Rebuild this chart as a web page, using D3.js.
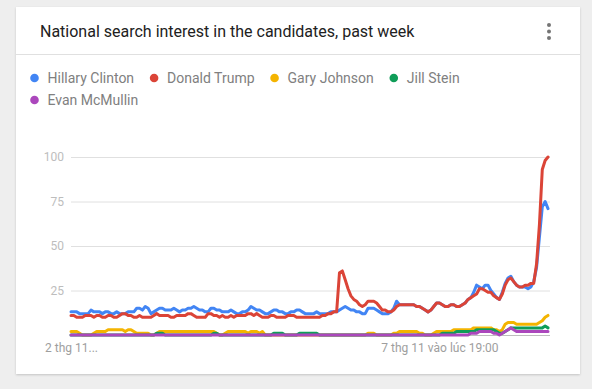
<!DOCTYPE html>
<html>
<head>
<meta charset="utf-8">
<script src="https://cdn.jsdelivr.net/npm/d3@7"></script>
<style>
  html, body { margin: 0; padding: 0; background: #eeeeee; }
  svg { display: block; font-family: Roboto, "Noto Sans", sans-serif; }
</style>
</head>
<body>
<div id="chart"></div>
<script>
const titleText = "National search interest in the candidates, past week";
const seriesNames = ["Hillary Clinton", "Donald Trump", "Gary Johnson", "Jill Stein", "Evan McMullin"];
const seriesColors = ["#4285f4", "#db4437", "#f4b400", "#0f9d58", "#ab47bc"];

// hourly points over the week
const clintonValues = [
  13,13,13,12,12,12,12,14,13,13, 13,12,13,13,12,12,13,12,12,12,
  13,13,13,15,15,14,16,15,12,13, 14,15,15,14,14,14,15,14,13,14,
  14,15,15,16,15,14,14,13,13,15, 15,14,14,13,13,13,14,13,12,12,
  13,13,14,16,15,14,14,13,12,12, 13,14,14,13,13,12,12,13,13,14,
  14,13,12,12,12,12,13,12,12,12, 12,13,13,13,14,15,16,15,14,14,
  13,13,12,12,15,15,15,14,13,12, 12,12,13,15,19,17,17,17,17,17,
  17,16,16,15,14,13,14,16,18,18, 17,16,16,17,17,16,16,17,18,20,
  21,24,28,27,26,28,28,25,23,21, 20,24,29,32,33,30,28,27,27,27,
  26,27,30,38,55,72,75,71
];
const trumpValues = [
  11,11,10,10,10,11,11,11,10,11, 11,10,10,11,11,10,10,11,12,12,
  11,11,10,10,11,10,10,10,10,11, 12,11,11,11,11,10,10,11,11,11,
  11,12,12,11,10,10,10,10,12,12, 11,11,10,11,10,10,11,10,11,11,
  11,11,12,12,11,12,11,10,10,10, 11,11,10,10,10,10,11,11,11,10,
  10,10,10,10,10,10,10,10,11,11, 12,12,13,13,35,36,31,26,22,20,
  19,17,16,17,19,19,19,18,16,14, 14,13,13,14,16,17,17,17,17,17,
  17,16,16,15,14,13,14,16,18,18, 17,16,16,17,17,16,16,17,18,20,
  21,22,23,26,26,25,24,24,22,21, 20,23,28,31,32,30,28,27,27,28,
  28,29,29,40,62,93,98,100
];
const johnsonValues = [
  2,2,2,1,0,0,0,0,1,2, 2,2,2,3,3,3,3,3,3,2,
  3,3,2,1,1,1,1,1,0,0, 1,2,2,2,2,2,2,2,2,2,
  2,2,2,2,2,2,2,2,2,2, 2,1,0,0,1,2,2,2,2,2,
  2,2,1,2,2,2,1,2,0,0, 0,0,0,0,0,0,0,0,0,0,
  0,0,0,0,0,0,0,0,0,0, 0,0,0,0,0,0,0,0,0,0,
  0,0,0,0,1,1,1,0,0,0, 0,0,0,1,1,2,2,2,2,2,
  2,2,1,1,0,0,0,1,2,2, 2,2,2,2,3,3,3,3,3,3,
  3,4,4,4,4,4,4,4,3,3, 2,3,6,7,7,7,6,6,6,6,
  6,6,6,6,7,8,10,11
];
const steinValues = [
  0,0,0,0,0,0,0,0,0,0, 0,0,0,0,0,0,0,0,0,0,
  0,0,0,0,0,0,0,0,0,0, 1,1,1,0,0,0,0,0,0,0,
  0,0,0,0,0,0,0,0,0,0, 1,1,0,0,0,0,0,0,0,0,
  0,0,0,0,0,0,0,0,0,0, 0,1,1,1,1,0,0,0,0,0,
  1,1,1,1,1,1,1,0,0,0, 0,0,0,0,0,0,0,0,0,0,
  0,0,0,0,0,0,0,0,0,0, 0,0,0,0,0,0,0,0,0,0,
  0,0,0,0,0,0,0,0,0,0, 1,1,1,1,1,2,2,2,2,2,
  2,2,3,3,3,3,3,3,3,2, 1,1,2,3,4,4,4,4,4,4,
  4,4,4,4,4,4,5,4
];
const mcmullinValues = [
  0,0,0,0,0,0,0,0,0,0, 0,0,0,0,0,0,0,0,0,0,
  0,0,0,0,0,0,0,0,0,0, 0,0,0,0,0,0,0,0,0,0,
  0,0,0,0,0,0,0,0,0,0, 0,0,0,0,0,0,0,0,0,0,
  0,0,0,0,0,0,0,0,0,0, 0,0,0,0,0,0,0,0,0,0,
  0,0,0,0,0,0,0,0,0,0, 0,0,0,0,0,0,0,0,0,0,
  0,0,0,0,0,0,0,0,0,0, 0,0,0,0,0,0,0,0,0,0,
  0,0,0,0,0,0,0,0,0,0, 0,0,0,0,0,0,0,0,0,0,
  1,1,1,2,2,2,2,2,1,1, 0,1,2,3,4,3,2,2,2,2,
  2,2,2,2,2,2,2,2
];
const yTicks = [25, 50, 75, 100];
const xTickIndexes = [0, 129];
const xTickLabels = ["2 thg 11...", "7 thg 11 vào lúc 19:00"];

const allSeries = [clintonValues, trumpValues, johnsonValues, steinValues, mcmullinValues];

const W = 592, H = 389;
const card = { x: 16, y: 7, w: 564, h: 367 };
const plot = { left: 71, right: 550, top: 157, bottom: 335, lastX: 548 };

const svg = d3.select("#chart").append("svg").attr("width", W).attr("height", H);

const defs = svg.append("defs");
const shadow = defs.append("filter").attr("id", "shadow")
  .attr("x", "-5%").attr("y", "-5%").attr("width", "110%").attr("height", "110%");
shadow.append("feDropShadow").attr("dx", 0).attr("dy", 1).attr("stdDeviation", 1)
  .attr("flood-color", "#000").attr("flood-opacity", 0.18);

svg.append("rect")
  .attr("x", card.x).attr("y", card.y).attr("width", card.w).attr("height", card.h)
  .attr("fill", "#fff").attr("filter", "url(#shadow)");

// header
svg.append("text")
  .attr("x", 40).attr("y", 37)
  .style("font-size", "16px").style("fill", "#212121")
  .text(titleText);

svg.append("line")
  .attr("x1", card.x).attr("x2", card.x + card.w).attr("y1", 54.5).attr("y2", 54.5)
  .attr("stroke", "#e0e0e0");

svg.append("g").selectAll("circle").data([25, 31.5, 38]).join("circle")
  .attr("cx", 549).attr("cy", (d) => d).attr("r", 2).attr("fill", "#757575");

// legend, wrapping like the original
const legend = svg.append("g");
let cursor = 30, row = 0;
seriesNames.forEach((name, i) => {
  const g = legend.append("g");
  const t = g.append("text").attr("y", 0).attr("dy", "0.35em")
    .style("font-size", "14px").style("fill", "#808080").text(name);
  const tw = t.node().getComputedTextLength();
  if (cursor + 14 + tw > 560) { cursor = 30; row++; }
  g.attr("transform", `translate(${cursor},${78 + row * 22})`);
  g.append("circle").attr("cx", 4.5).attr("cy", 0).attr("r", 4.3).attr("fill", seriesColors[i]);
  t.attr("x", 17.5);
  cursor += 17.5 + tw + 15.5;
});

// scales
const n = clintonValues.length;
const x = d3.scaleLinear().domain([0, n - 1]).range([plot.left, plot.lastX]);
const y = d3.scaleLinear().domain([0, 100]).range([plot.bottom, plot.top]);

const yAxis = svg.append("g")
  .attr("transform", `translate(${plot.left},0)`)
  .call(d3.axisLeft(y).tickValues(yTicks).tickSize(-(plot.right - plot.left)).tickPadding(7));
yAxis.select(".domain").remove();
yAxis.selectAll(".tick line").attr("stroke", "#e0e0e0");
yAxis.selectAll(".tick text")
  .style("font-family", "Roboto, sans-serif").style("font-size", "12px").attr("fill", "#bdbdbd");

svg.append("line")
  .attr("x1", plot.left).attr("x2", plot.right)
  .attr("y1", y(0) + 0.5).attr("y2", y(0) + 0.5)
  .attr("stroke", "#bdbdbd");

const xAxis = svg.append("g")
  .attr("transform", `translate(0,${plot.bottom})`)
  .call(d3.axisBottom(x).tickValues(xTickIndexes)
    .tickFormat((d) => xTickLabels[xTickIndexes.indexOf(d)])
    .tickSize(0).tickPadding(8));
xAxis.select(".domain").remove();
xAxis.selectAll(".tick text")
  .style("font-family", "Roboto, sans-serif").style("font-size", "12px").attr("fill", "#9e9e9e");

// lines
const line = d3.line().x((d, i) => x(i)).y((d) => y(d));

svg.append("g").selectAll("path").data(allSeries).join("path")
  .attr("d", line)
  .attr("fill", "none")
  .attr("stroke", (d, i) => seriesColors[i])
  .attr("stroke-width", 3)
  .attr("stroke-linejoin", "round")
  .attr("stroke-linecap", "round");
</script>
</body>
</html>
